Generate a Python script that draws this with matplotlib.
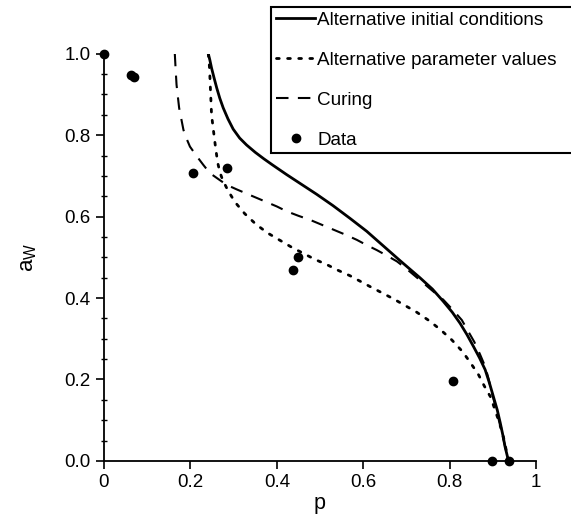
import numpy as np
import matplotlib
matplotlib.use("Agg")
import matplotlib.pyplot as plt
from matplotlib.ticker import MultipleLocator

plt.rcParams["font.family"] = ["Liberation Sans", "DejaVu Sans"]
plt.rcParams["mathtext.default"] = "regular"

# solid: alternative initial conditions
p_init = [0.2415, 0.245, 0.249, 0.255, 0.261, 0.268, 0.276, 0.287, 0.299, 0.314,
          0.330, 0.350, 0.370, 0.390, 0.423, 0.446, 0.492, 0.530, 0.569, 0.608,
          0.639, 0.685, 0.731, 0.760, 0.785, 0.806, 0.824, 0.840, 0.855, 0.869,
          0.882, 0.892, 0.901, 0.910, 0.917, 0.923, 0.928, 0.936]
a_init = [1.0, 0.985, 0.965, 0.940, 0.916, 0.891, 0.867, 0.840, 0.815, 0.793,
          0.776, 0.758, 0.742, 0.727, 0.703, 0.687, 0.655, 0.627, 0.596, 0.564,
          0.535, 0.492, 0.450, 0.422, 0.392, 0.365, 0.338, 0.310, 0.281, 0.253,
          0.224, 0.191, 0.158, 0.125, 0.093, 0.063, 0.035, 0.0]

# dotted: alternative parameter values
p_param = [0.2415, 0.244, 0.245, 0.247, 0.249, 0.2546, 0.258, 0.261, 0.264, 0.268,
           0.274, 0.286, 0.303, 0.326, 0.353, 0.380, 0.407, 0.434, 0.461, 0.488,
           0.516, 0.542, 0.569, 0.616, 0.670, 0.724, 0.753, 0.779, 0.805, 0.830,
           0.850, 0.867, 0.880, 0.894, 0.905, 0.915, 0.924, 0.930, 0.936]
a_param = [1.0, 0.97, 0.948, 0.899, 0.850, 0.801, 0.772, 0.749, 0.729, 0.710,
           0.692, 0.666, 0.636, 0.607, 0.580, 0.559, 0.542, 0.525, 0.510, 0.495,
           0.482, 0.468, 0.455, 0.428, 0.398, 0.365, 0.344, 0.322, 0.297, 0.268,
           0.238, 0.211, 0.184, 0.158, 0.125, 0.093, 0.06, 0.03, 0.0]

# dashed: curing
p_cure = [0.164, 0.166, 0.168, 0.171, 0.174, 0.179, 0.184, 0.191, 0.199, 0.215,
          0.230, 0.245, 0.265, 0.284, 0.307, 0.340, 0.369, 0.400, 0.423, 0.450,
          0.477, 0.504, 0.531, 0.558, 0.585, 0.608, 0.631, 0.655, 0.678, 0.701,
          0.730, 0.760, 0.785, 0.808, 0.828, 0.843, 0.857, 0.870, 0.882, 0.890,
          0.897, 0.903, 0.909, 0.917, 0.925, 0.936]
a_cure = [1.0, 0.96, 0.924, 0.895, 0.867, 0.840, 0.813, 0.792, 0.772, 0.748,
          0.727, 0.707, 0.692, 0.678, 0.667, 0.652, 0.639, 0.625, 0.613, 0.602,
          0.592, 0.580, 0.568, 0.556, 0.543, 0.530, 0.518, 0.504, 0.490, 0.471,
          0.445, 0.418, 0.396, 0.370, 0.346, 0.318, 0.292, 0.262, 0.232, 0.201,
          0.170, 0.145, 0.121, 0.085, 0.05, 0.0]

# data points
p_data = [0.0, 0.0625, 0.069, 0.206, 0.285, 0.4375, 0.45, 0.808, 0.898, 0.9375]
a_data = [1.0, 0.948, 0.943, 0.708, 0.72, 0.469, 0.50, 0.197, 0.0, 0.0]

fig = plt.figure(figsize=(5.71, 5.22), dpi=100)
ax = fig.add_axes([0.182, 0.117, 0.757, 0.78])

ax.plot(p_init, a_init, color="k", lw=2.0, label="Alternative initial conditions")
ax.plot(p_param, a_param, color="k", lw=2.0, dashes=(1, 3),
        dash_capstyle="round", label="Alternative parameter values")
ax.plot(p_cure, a_cure, color="k", lw=1.5, dashes=(6, 4.5), label="Curing")
ax.plot(p_data, a_data, "o", color="k", ms=6, clip_on=False, zorder=5,
        label="Data")

ax.set_xlim(0, 1)
ax.set_ylim(0, 1)
for s in ["top", "right"]:
    ax.spines[s].set_visible(False)
ax.spines["left"].set_linewidth(1.3)
ax.spines["bottom"].set_linewidth(1.3)

ax.set_xticks([0, 0.2, 0.4, 0.6, 0.8, 1.0])
ax.set_xticklabels(["0", "0.2", "0.4", "0.6", "0.8", "1"])
ax.set_yticks([0, 0.2, 0.4, 0.6, 0.8, 1.0])
ax.set_yticklabels(["0.0", "0.2", "0.4", "0.6", "0.8", "1.0"])
ax.yaxis.set_minor_locator(MultipleLocator(0.05))
ax.tick_params(axis="both", which="major", direction="out", length=6,
               width=1.2, labelsize=13.5)
ax.tick_params(axis="y", which="minor", direction="inout", length=5, width=1)

ax.set_xlabel("p", fontsize=15.5, labelpad=1)
ax.set_ylabel("a$_W$", fontsize=16, labelpad=18)

# legend box runs off the right edge of the figure, as in the scan
top = 1 - 7 / 522
leg = ax.legend(loc="upper left", bbox_to_anchor=(271 / 571, top - 0.3, 0.6, 0.3),
                bbox_transform=fig.transFigure, borderaxespad=0, mode="expand",
                fontsize=13.6, handlelength=2.1, handletextpad=0.1,
                labelspacing=1.2, borderpad=0.25, fancybox=False,
                framealpha=1, edgecolor="k", numpoints=1)
leg.get_frame().set_linewidth(1.5)

fig.savefig("out.png", dpi=100)
